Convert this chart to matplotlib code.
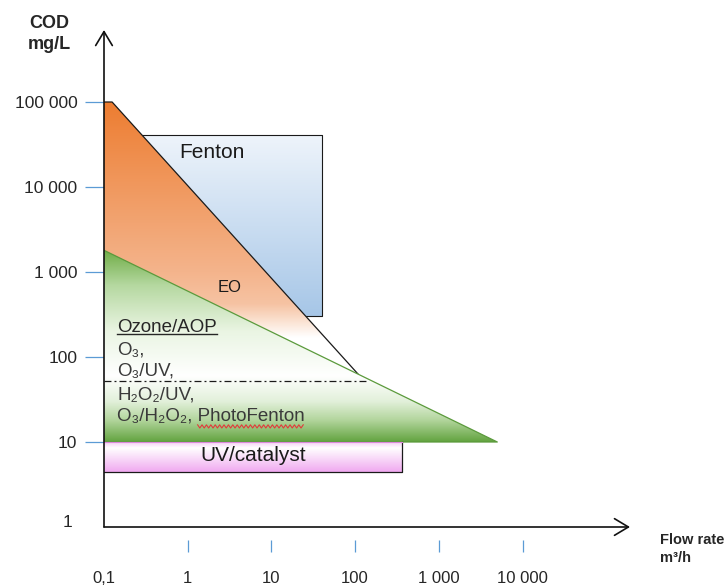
import numpy as np
import matplotlib
matplotlib.use('Agg')
import matplotlib.pyplot as plt
from matplotlib.colors import to_rgb
from matplotlib.lines import Line2D
from matplotlib.patches import Polygon
from matplotlib.ticker import FixedLocator, FixedFormatter

plt.rcParams['font.family'] = ['Liberation Sans', 'DejaVu Sans']
plt.rcParams['lines.scale_dashes'] = False

# ##### DATA ######
x_ticks = [1, 10, 100, 1000, 10000]
x_ticklabels = ['1', '10', '100', '1 000', '10 000']
y_ticks = [10, 100, 1000, 10000, 100000]
y_ticklabels = ['10', '100', '1 000', '10 000', '100 000']

# regions: flow rate (m3/h) vs COD (mg/L)
eo_flow = [0.1, 0.125, 110, 0.1]
eo_cod = [100000, 100000, 62, 62]
fenton_flow = [0.28, 40, 40, 0.28]
fenton_cod = [41000, 41000, 300, 300]
ozone_flow = [0.1, 5000, 0.1]
ozone_cod = [1800, 10, 10]
uv_flow = [0.1, 360, 360, 0.1]
uv_cod = [10, 10, 4.4, 4.4]
split_flow = [0.1, 140]
split_cod = [52, 52]

# gradient stops (COD, colour), ascending COD
eo_stops = [(170, '#ffffff'), (260, '#fbe3d3'), (420, '#f6c3a3'), (1000, '#f4b48c'),
            (100000, '#ed7d31')]
fenton_stops = [(300, '#a6c6e7'), (41000, '#eef4fb')]
ozone_stops = [(10, '#62a33f'), (18, '#b2d59c'), (30, '#e2f0da'), (60, '#ffffff'),
               (200, '#eaf5e3'), (700, '#b5d8a0'), (1800, '#70ad47')]
uv_stops = [(4.4, '#f0a8f0'), (8.5, '#ffffff'), (10, '#f4cdf4')]

######################

W, H = 727, 588
fig = plt.figure(figsize=(W / 100, H / 100), dpi=100)
ax = fig.add_axes([104 / W, 61 / H, 526 / W, 497 / H])
ax.set_xscale('log')
ax.set_yscale('log')
xlim = (0.1, 10 ** (-1 + 526 / 83.7))
ylim = (1, 10 ** (497 / 85))
ax.set_xlim(xlim)
ax.set_ylim(ylim)
ax.autoscale(False)


def gradient_patch(flow, cod, stops, z):
    patch = Polygon(list(zip(flow, cod)), closed=True, facecolor='none', edgecolor='none')
    ax.add_patch(patch)
    lo, hi = np.log10(ylim)
    logv = np.linspace(lo, hi, 1000)
    sx = np.log10([s[0] for s in stops])
    cols = np.array([to_rgb(s[1]) for s in stops])
    img = np.stack([np.interp(logv, sx, cols[:, i]) for i in range(3)], axis=1)
    img = np.repeat(img[:, None, :], 2, axis=1)
    im = ax.imshow(img, extent=[0, 1, 0, 1], transform=ax.transAxes, origin='lower',
                   aspect='auto', interpolation='bilinear', zorder=z)
    im.set_clip_path(patch)
    return patch


# Fenton box
gradient_patch(fenton_flow, fenton_cod, fenton_stops, 1)
ax.plot(fenton_flow + fenton_flow[:1], fenton_cod + fenton_cod[:1], color='#1a1a1a', lw=0.8, zorder=1.5)

# EO triangle
gradient_patch(eo_flow, eo_cod, eo_stops, 2)
ax.plot(eo_flow[:3], eo_cod[:3], color='#1a1a1a', lw=0.9, zorder=2.5)

# Ozone / AOP triangle
gradient_patch(ozone_flow, ozone_cod, ozone_stops, 3)
ax.plot(ozone_flow, ozone_cod, color='#5b9a3c', lw=0.9, zorder=3.5)

# UV/catalyst box
gradient_patch(uv_flow, uv_cod, uv_stops, 3)
ax.plot(uv_flow[1:], uv_cod[1:], color='#1a1a1a', lw=0.9, zorder=3.6)
ax.plot(uv_flow[:2], uv_cod[:2], color='#d98ad9', lw=0.8, zorder=3.6)

# dash-dot split line
ax.plot(split_flow, split_cod, color='#1a1a1a', lw=0.9, linestyle=(0, (5, 2.2, 1.4, 2.2)), zorder=4)

ax.set_xlim(xlim)
ax.set_ylim(ylim)

# axes and ticks
for s in ax.spines.values():
    s.set_visible(False)
ax.spines['bottom'].set_position(('outward', 9.4))

ax.xaxis.set_major_locator(FixedLocator(x_ticks))
ax.xaxis.set_major_formatter(FixedFormatter(x_ticklabels))
ax.xaxis.set_minor_locator(FixedLocator([0.1]))
ax.xaxis.set_minor_formatter(FixedFormatter(['0,1']))
ax.yaxis.set_major_locator(FixedLocator(y_ticks))
ax.yaxis.set_major_formatter(FixedFormatter(y_ticklabels))
ax.yaxis.set_minor_locator(FixedLocator([1]))
ax.yaxis.set_minor_formatter(FixedFormatter(['1']))

ax.tick_params(axis='x', which='major', length=8.6, width=0.9, color='#5b9bd5', pad=13.5,
               labelsize=12, labelcolor='#262626')
ax.tick_params(axis='x', which='minor', length=0, pad=22, labelsize=12, labelcolor='#262626')
ax.tick_params(axis='y', which='major', length=13.7, width=0.9, color='#5b9bd5', pad=5.5,
               labelsize=12.5, labelcolor='#262626')
ax.tick_params(axis='y', which='minor', length=0, pad=23, labelsize=12.5, labelcolor='#262626')
for lab in ax.get_yticklabels(minor=True):
    lab.set_verticalalignment('baseline')

arrow = dict(arrowstyle='->,head_length=0.5,head_width=0.3', color='#111111', lw=1.2,
             mutation_scale=20, shrinkA=0, shrinkB=0)
ax.annotate('', xy=(0, 1), xytext=(0, 0), xycoords='axes fraction', arrowprops=arrow,
            annotation_clip=False, zorder=6)
ax.annotate('', xy=(1, 0), xytext=(0, 0), xycoords='axes fraction', arrowprops=arrow,
            annotation_clip=False, zorder=6)

fig.text(49 / W, 1 - 34 / H, 'COD\nmg/L', ha='center', va='center', fontsize=13,
         fontweight='bold', color='#262626', linespacing=1.25)
fig.text(660 / W, 1 - 549 / H, 'Flow rate\nm³/h', ha='left', va='center', fontsize=10.5,
         fontweight='bold', color='#262626', linespacing=1.45)

# region labels
ax.text(1.95, 25800, 'Fenton', ha='center', va='center', fontsize=15, color='#1a1a1a', zorder=7)
ax.text(3.2, 650, 'EO', ha='center', va='center', fontsize=12, color='#1a1a1a', zorder=7)
ax.text(6.0, 7.0, 'UV/catalyst', ha='center', va='center', fontsize=15, color='#1a1a1a', zorder=7)

txt_x = 0.143
t_head = ax.text(txt_x, 197, 'Ozone/AOP', ha='left', va='baseline', fontsize=13.5,
                 color='#262626', zorder=7)
aop_lines = ['O₃,', 'O₃/UV,', 'H₂O₂/UV,', 'O₃/H₂O₂, PhotoFenton']
aop_base = [108, 60, 32, 17.7]
t_last = None
for line, yb in zip(aop_lines, aop_base):
    t_last = ax.text(txt_x, yb, line, ha='left', va='baseline', fontsize=13.5,
                     color='#3a3a3a', zorder=7)

# underline and spell-check squiggle
fig.canvas.draw()
r = fig.canvas.get_renderer()
bb = t_head.get_window_extent(r)
base_px = ax.transData.transform((txt_x, 197))[1]
fig.add_artist(Line2D([bb.x0 / W, bb.x1 / W], [(base_px - 2) / H] * 2, color='#262626', lw=1.0))

bb2 = t_last.get_window_extent(r)
tmp = ax.text(txt_x, 17.7, 'PhotoFenton', fontsize=13.5)
w_photo = tmp.get_window_extent(r).width
tmp.remove()
base2 = ax.transData.transform((txt_x, 17.7))[1]
wx = np.arange(bb2.x1 - w_photo, bb2.x1, 2.2)
wy = base2 - 5.5 + np.where(np.arange(len(wx)) % 2 == 0, 1.6, -1.6)
fig.add_artist(Line2D(wx / W, wy / H, color='#e23a3a', lw=0.8))

plt.savefig('out.png', dpi=100)
plt.close()
